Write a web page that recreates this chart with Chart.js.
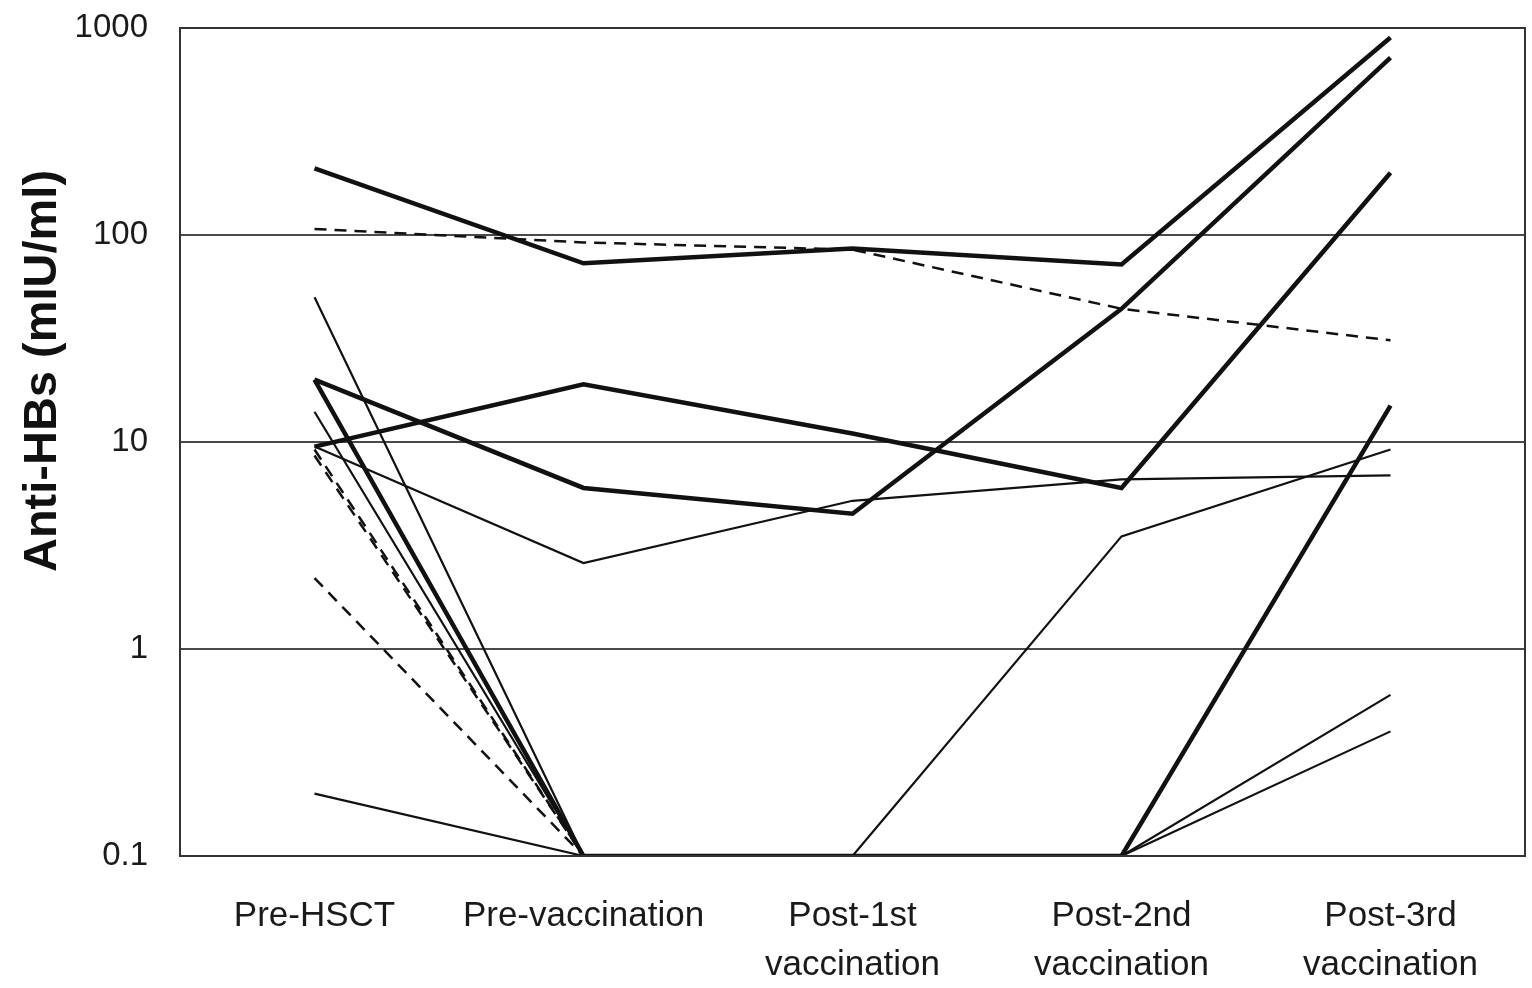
<!DOCTYPE html>
<html>
<head>
<meta charset="utf-8">
<script src="https://cdn.jsdelivr.net/npm/chart.js@4.4.1/dist/chart.umd.min.js"></script>
<style>
  body { margin: 0; background: #fff; }
  canvas { display: block; }
</style>
</head>
<body>
<canvas id="hbs-chart" width="1532" height="988"></canvas>
<script>
// time points
const labels = [
  'Pre-HSCT',
  'Pre-vaccination',
  ['Post-1st', 'vaccination'],
  ['Post-2nd', 'vaccination'],
  ['Post-3rd', 'vaccination']
];

const yTicks = [0.1, 1, 10, 100, 1000];

// anti-HBs per patient (mIU/ml), 0.1 = undetectable
const thick1 = [210, 73, 86, 72, 900];
const thick2 = [9.5, 19, 11, 6, 200];
const thick3 = [20, 6, 4.5, 44, 720];
const thick4 = [20, 0.1, 0.1, 0.1, 15];
const thin1 = [50, 0.1, 0.1, 3.5, 9.2];
const thin2 = [14, 0.1, 0.1, 0.1, 0.6];
const thin3 = [0.2, 0.1, 0.1, 0.1, 0.4];
const thin4 = [9.5, 2.6, 5.2, 6.6, 6.9];
const dashed1 = [107, 92, 85, 44, 31];
const dashed2 = [9.2, 0.1, null, null, null];
const dashed3 = [8.6, 0.1, null, null, null];
const dashed4 = [2.2, 0.1, null, null, null];

const ink = '#111';

function thick(d) {
  return { data: d, borderColor: ink, borderWidth: 4.5, pointRadius: 0 };
}
function thin(d) {
  return { data: d, borderColor: ink, borderWidth: 2.2, pointRadius: 0 };
}
function dashed(d) {
  return { data: d, borderColor: ink, borderWidth: 2.5, borderDash: [12, 8], pointRadius: 0 };
}

const data = {
  labels: labels,
  datasets: [
    dashed(dashed1), dashed(dashed2), dashed(dashed3), dashed(dashed4),
    thin(thin1), thin(thin2), thin(thin3), thin(thin4),
    thick(thick1), thick(thick2), thick(thick3), thick(thick4)
  ]
};

// box round the plot area
const frame = {
  id: 'frame',
  afterDraw(chart) {
    const { ctx, chartArea: a } = chart;
    ctx.save();
    ctx.strokeStyle = '#333';
    ctx.lineWidth = 2;
    ctx.strokeRect(a.left, a.top, a.right - a.left, a.bottom - a.top);
    ctx.restore();
  }
};

// y title sits higher than the plot centre in the original
const yTitle = {
  id: 'yTitle',
  afterDraw(chart) {
    const ctx = chart.ctx;
    ctx.save();
    ctx.translate(43, 371);
    ctx.rotate(-Math.PI / 2);
    ctx.font = "bold 47px 'Liberation Sans Narrow', 'Liberation Sans', sans-serif";
    ctx.fillStyle = '#111';
    ctx.textAlign = 'center';
    ctx.textBaseline = 'middle';
    ctx.fillText('Anti-HBs (mIU/ml)', 0, 0);
    ctx.restore();
  }
};

const config = {
  type: 'line',
  data,
  options: {
    responsive: false,
    animation: false,
    layout: { padding: { top: 28, right: 7, left: 0, bottom: 0 } },
    plugins: {
      legend: { display: false },
      tooltip: { enabled: false }
    },
    scales: {
      x: {
        offset: true,
        grid: { display: false },
        border: { display: false },
        ticks: {
          autoSkip: false,
          maxRotation: 0,
          padding: 28,
          color: '#1a1a1a',
          font: { family: "'Liberation Sans', Arial, sans-serif", size: 35, lineHeight: 1.4 }
        },
        afterFit(scale) {
          scale.height = 132;
          scale.paddingLeft = 0;
          scale.paddingRight = 0;
        }
      },
      y: {
        type: 'logarithmic',
        min: 0.1,
        max: 1000,
        afterBuildTicks(scale) {
          scale.ticks = yTicks.map(v => ({ value: v }));
        },
        grid: { color: '#4a4a4a', lineWidth: 2, drawTicks: false },
        border: { display: false },
        ticks: {
          padding: 32,
          color: '#1a1a1a',
          font: { family: "'Liberation Sans', Arial, sans-serif", size: 33 },
          callback: v => String(v)
        },
        afterFit(scale) {
          scale.width = 180;
          scale.paddingTop = 0;
          scale.paddingBottom = 0;
        }
      }
    }
  },
  plugins: [frame, yTitle]
};

let hbsChart = new Chart(document.getElementById('hbs-chart'), config);
</script>
</body>
</html>
